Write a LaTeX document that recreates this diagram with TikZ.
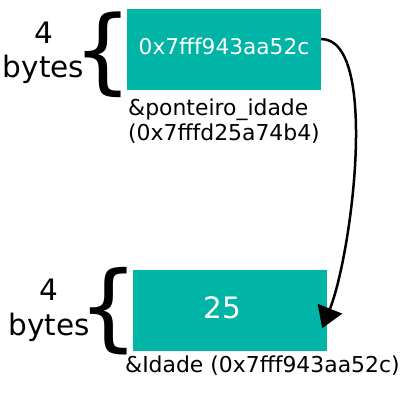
\documentclass[tikz,border=0pt]{standalone}
\usepackage{fontspec}
\setmainfont{DejaVu Sans}
\usetikzlibrary{arrows.meta}
\definecolor{tealbox}{RGB}{0,181,165}
\tikzset{
  membox/.style={fill=tealbox, draw=none, inner sep=0pt, minimum width=194pt, minimum height=81pt, text=white},
  lbl/.style={anchor=base west, inner sep=0pt, font=\fontsize{21.9}{25}\selectfont},
  bytes/.style={anchor=base, inner sep=0pt, align=center, font=\fontsize{29.5}{34.5}\selectfont},
  bracechar/.style={anchor=base, inner sep=0pt, font=\fontsize{93}{93}\selectfont},
  ptrarrow/.style={line width=2.5pt, -{Triangle[width=26pt,length=21pt]}}
}
\begin{document}
\begin{tikzpicture}[x=1pt,y=-1pt]
\useasboundingbox (0,0) rectangle (400,400);
% top box
\node[membox, font=\fontsize{21.7}{25}\selectfont, text height=15pt, text depth=6pt] (ptr) at (224,49.5) {0x7fff943aa52c};
\node[lbl] (ptrlbla) at (128,115) {\&ponteiro\_idade};
\node[lbl] (ptrlblb) at (128,140) {(0x7fffd25a74b4)};
\node[bytes] (bytesa) at (43.5,77.5) {4\\bytes};
\node[bracechar] (bracea) at (103.5,82.7) {\{};
% bottom box
\node[membox, font=\fontsize{29.5}{34}\selectfont, text height=20pt, text depth=5pt] (val) at (230,310.5) {\hspace*{-15pt}25};
\node[lbl] (vallbl) at (125,372) {\&Idade (0x7fff943aa52c)};
\node[bytes] (bytesb) at (49,335) {4\\bytes};
\node[bracechar, font=\fontsize{95}{95}\selectfont] (braceb) at (109,339.5) {\{};
% arrow
\coordinate (start) at ([yshift=10.5pt]ptr.east);
\coordinate (tip) at ([xshift=-5pt,yshift=23pt]val.south east);
\draw[ptrarrow] (start) .. controls +(58,0) and +(30,-75) .. (tip);
\end{tikzpicture}
\end{document}
